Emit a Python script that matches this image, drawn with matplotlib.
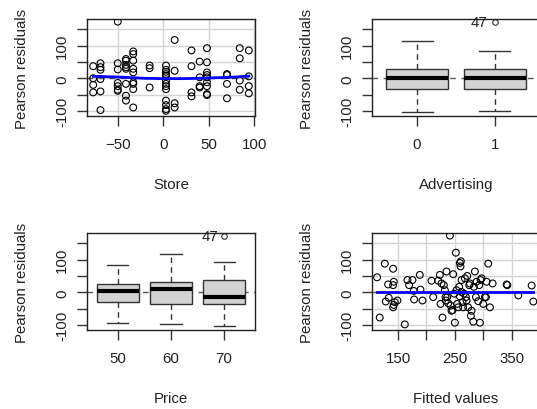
import matplotlib
matplotlib.use("Agg")
import matplotlib.pyplot as plt
import numpy as np

plt.rcParams['font.family'] = ['Liberation Sans', 'DejaVu Sans']

# ---------------- data ----------------
# Store panel: (store value, residuals at that store)
store_groups = {
    -77: [37, 0, -20, -43],
    -69: [46, 34, 26, -2, -40, -97],
    -50: [173, 46, 27, -14, -24, -35, -38],
    -41: [59, 54, 41, 34, 29, -17, -53, -68],
    -33: [82, 74, 54, 29, 18, -12, -17, -33, -89],
    -15: [39, 31, -28],
    3: [39, 26, 20, 13, 8, -7, -17, -24, -33, -68, -82, -94, -99],
    12.5: [117, 23, -76, -89],
    31: [85, 37, -43, -55],
    40: [51, 3, -24, -28],
    48: [92, 49, 18, 10, 3, -12, -24, -48, -51],
    70: [13, 10, -17, -61],
    84: [92, 61, -7, -35],
    94: [85, 6, -24, -46],
}
store_smooth_x = [-77, -50, -35, -20, 0, 20, 40, 60, 80, 94]
store_smooth_y = [6, 4, 2, 0, -1, -1, 0, 2, 4, 7]

fitted = [112.9, 117.6, 126.5, 128.2, 132.4, 133.5, 141.2, 141.2, 142.4, 141.2,
          142.4, 144.1, 148.8, 161.8, 166.5, 169.4, 175.3, 177.6, 178.2, 188.2,
          189.4, 192.9, 208.8, 211.8, 220.6, 223.5, 224.7, 226.5, 228.2, 230.6,
          232.4, 233.5, 234.1, 235.3, 236.5, 238.2, 241.2, 242.4, 244.1, 245.9,
          247.1, 248.8, 250.0, 251.8, 252.9, 254.1, 255.9, 257.6, 258.8, 258.8,
          260.0, 260.6, 261.8, 261.8, 263.5, 264.7, 265.9, 267.6, 269.4, 270.6,
          271.8, 273.5, 275.3, 276.5, 278.2, 279.4, 282.4, 283.5, 285.3, 287.1,
          288.2, 291.2, 292.9, 294.1, 295.3, 297.1, 300.0, 302.9, 304.7, 305.9,
          308.8, 311.8, 316.5, 341.2, 342.4, 361.8, 385.3, 388.2]
fitted_resid = [45.8, -77.1, 87.5, -28.1, 24.0, -16.7, 71.9, 21.9, 32.3, -45.8,
                -38.5, -30.2, -25.0, -97.9, 37.5, 21.9, 37.5, 4.2, -21.9, 53.1,
                8.3, -25.0, 35.4, -14.6, 35.4, 53.1, -35.4, 27.1, -77.1, 21.9,
                6.3, -14.6, -25.0, 63.5, -14.6, -33.3, 173.0, -40.6, -56.3, -54.2,
                55.2, -4.2, -92.7, 120.8, 6.3, -35.4, -45.8, 16.7, -12.5, 89.6,
                79.2, 94.8, 37.5, 1.0, -30.2, -45.8, -4.2, 42.7, -14.6, -25.0,
                50.0, -45.8, 21.9, 27.1, -71.9, -56.3, -89.6, 16.7, 63.5, -14.6,
                32.3, -27.1, 21.9, -92.7, 37.5, 42.7, -35.4, -14.6, -14.6, 32.3,
                87.5, -45.8, 27.1, 24.0, 21.9, -9.4, 20.8, -28.1]
fitted_smooth_x = [112.9, 250, 388.2]
fitted_smooth_y = [1, 1, 1]

# Boxplot stats: (whislo, q1, med, q3, whishi)
adv_labels = ['0', '1']
adv_stats = [(-104, -34, 0, 28, 115), (-100, -32, 0, 28, 82)]
adv_fliers = [[], [171]]
price_labels = ['50', '60', '70']
price_stats = [(-95, -30, 5, 25, 82), (-98, -36, 9, 33, 117), (-102, -36, -13, 37, 91)]
price_fliers = [[], [], [173]]
outlier_id = '47'

yticks = [-100, -50, 0, 50, 100, 150]
ytick_labels = ['-100', '', '0', '', '100', '']
store_ticks = [-50, 0, 50, 100]
fitted_ticks = [150, 200, 250, 300, 350]
fitted_tick_labels = ['150', '', '250', '', '350']
ylab = 'Pearson residuals'

# ---------------- figure ----------------
W, H = 537, 410
fig = plt.figure(figsize=(W / 100, H / 100), dpi=100)
FS = 10.8
GRID = '#D3D3D3'
TXT = '#222222'


def make_ax(left, top):
    return fig.add_axes([left / W, 1 - (top + 97) / H, 168 / W, 97 / H])


def style(ax, xlabel):
    ax.set_ylim(-115, 181)
    ax.set_yticks(yticks)
    ax.set_yticklabels(ytick_labels)
    for lab in ax.get_yticklabels():
        lab.set_rotation(90)
        lab.set_va('center')
    ax.tick_params(length=7, width=1, direction='out', labelsize=FS, pad=6,
                   colors='#333333', labelcolor=TXT)
    ax.tick_params(axis='x', pad=8)
    for s in ax.spines.values():
        s.set_color('#222222')
        s.set_linewidth(1)
    ax.set_xlabel(xlabel, fontsize=FS, va='center', color=TXT)
    ax.xaxis.set_label_coords(0.5, -68 / 97)
    ax.set_ylabel(ylab, fontsize=FS, va='center', ha='center', color=TXT)
    ax.yaxis.set_label_coords(-65 / 168, 0.5)


def zero_line(ax):
    ax.axhline(0, color='#555555', lw=1, ls=(0, (4, 4)), zorder=1)


# Top-left: Store
ax1 = make_ax(87, 20)
sx = [k for k, v in store_groups.items() for _ in v]
sy = [r for v in store_groups.values() for r in v]
ax1.set_xlim(-83.8, 100.8)
ax1.set_xticks(store_ticks)
ax1.grid(True, color=GRID, lw=1, zorder=0)
zero_line(ax1)
ax1.scatter(sx, sy, s=24, facecolors='none', edgecolors='black', linewidths=0.8, zorder=3)
ax1.plot(store_smooth_x, store_smooth_y, color='blue', lw=2, zorder=4)
ax1.set_axisbelow(True)
style(ax1, 'Store')

# Top-right: Advertising
ax2 = make_ax(372, 20)


def draw_box(ax, stats, fliers, labels):
    bstats = []
    for (lo, q1, med, q3, hi), fl in zip(stats, fliers):
        bstats.append(dict(whislo=lo, q1=q1, med=med, q3=q3, whishi=hi, fliers=fl))
    zero_line(ax)
    ax.bxp(bstats, positions=list(range(1, len(stats) + 1)), widths=0.8,
           capwidths=0.4, patch_artist=True, showfliers=True,
           boxprops=dict(facecolor='#D3D3D3', edgecolor='#333333', lw=1),
           medianprops=dict(color='black', lw=3, solid_capstyle='butt'),
           whiskerprops=dict(color='#333333', lw=1, ls=(0, (4, 3))),
           capprops=dict(color='#333333', lw=1),
           flierprops=dict(marker='o', markerfacecolor='none', markeredgecolor='#333333',
                           markersize=4, markeredgewidth=0.8))
    ax.set_xlim(0.42, len(stats) + 0.58)
    ax.set_xticks(list(range(1, len(stats) + 1)))
    ax.set_xticklabels(labels)
    for i, fl in enumerate(fliers):
        for v in fl:
            ax.text(i + 1 - 0.1, v, outlier_id, ha='right', va='center', fontsize=FS, color=TXT)


draw_box(ax2, adv_stats, adv_fliers, adv_labels)
style(ax2, 'Advertising')

# Bottom-left: Price
ax3 = make_ax(87, 234)
draw_box(ax3, price_stats, price_fliers, price_labels)
style(ax3, 'Price')

# Bottom-right: Fitted values
ax4 = make_ax(372, 234)
ax4.set_xlim(104, 400)
ax4.set_xticks(fitted_ticks)
ax4.set_xticklabels(fitted_tick_labels)
ax4.grid(True, color=GRID, lw=1, zorder=0)
ax4.set_axisbelow(True)
zero_line(ax4)
ax4.scatter(fitted, fitted_resid, s=24, facecolors='none', edgecolors='black', linewidths=0.8, zorder=3)
ax4.plot(fitted_smooth_x, fitted_smooth_y, color='blue', lw=2, zorder=4)
style(ax4, 'Fitted values')

fig.savefig('out.png', dpi=100)
